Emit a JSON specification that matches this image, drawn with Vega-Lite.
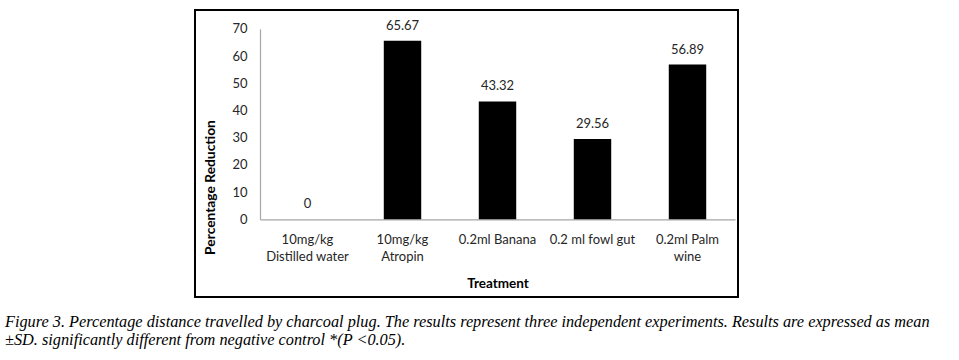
{
  "$schema": "https://vega.github.io/schema/vega-lite/v6.json",
  "width": 543,
  "height": 287,
  "autosize": {"type": "none"},
  "padding": {"left": 195, "top": 10, "right": 221, "bottom": 63},
  "background": "white",
  "config": {
    "view": {"stroke": "#000000", "strokeWidth": 2},
    "font": "Lato"
  },
  "title": {
    "text": [
      "Figure 3. Percentage distance travelled by charcoal plug. The results represent three independent experiments. Results are expressed as mean",
      "±SD. significantly different from negative control *(P <0.05)."
    ],
    "orient": "bottom",
    "anchor": "start",
    "frame": "group",
    "dx": -190,
    "offset": 17,
    "font": "Liberation Serif",
    "fontStyle": "italic",
    "fontWeight": "normal",
    "fontSize": 16.3,
    "lineHeight": 18,
    "color": "#000000"
  },
  "data": {
    "values": [
      {"treatment": "10mg/kg Distilled water", "value": 0},
      {"treatment": "10mg/kg Atropin", "value": 65.67},
      {"treatment": "0.2ml Banana", "value": 43.32},
      {"treatment": "0.2 ml fowl gut", "value": 29.56},
      {"treatment": "0.2ml Palm wine", "value": 56.89}
    ]
  },
  "encoding": {
    "x": {
      "field": "treatment",
      "type": "nominal",
      "sort": null,
      "scale": {"range": [65, 540], "paddingInner": 0.606, "paddingOuter": 0.303},
      "axis": {
        "orient": "bottom",
        "offset": -77.7,
        "title": "Treatment",
        "titleFont": "Lato",
        "titleFontSize": 13.5,
        "titleFontWeight": "bold",
        "titleColor": "#000000",
        "titleY": 64,
        "titleBaseline": "middle",
        "labelAngle": 0,
        "labelFontSize": 13,
        "labelColor": "#262626",
        "labelPadding": 14,
        "labelLineHeight": 17.6,
        "labelBaseline": "top",
        "labelLimit": 200,
        "labelExpr": "indexof(datum.label, '10mg/kg ') == 0 ? ['10mg/kg', substring(datum.label, 8)] : (datum.label == '0.2ml Palm wine' ? ['0.2ml Palm', 'wine'] : datum.label)",
        "ticks": false,
        "tickSize": 0,
        "domainColor": "#a6a6a6",
        "domainWidth": 1.2,
        "grid": false
      }
    },
    "y": {
      "field": "value",
      "type": "quantitative",
      "scale": {"domain": [0, 70], "range": [209.3, 18.9], "nice": false, "zero": true},
      "axis": {
        "orient": "left",
        "offset": -65,
        "values": [0, 10, 20, 30, 40, 50, 60, 70],
        "title": "Percentage Reduction",
        "titleFont": "Lato",
        "titleFontSize": 13.8,
        "titleFontWeight": "bold",
        "titleColor": "#000000",
        "titleAngle": -90,
        "titleX": -50,
        "titleY": 177,
        "titleAlign": "center",
        "titleBaseline": "middle",
        "labelFontSize": 13,
        "labelColor": "#262626",
        "labelPadding": 13,
        "ticks": false,
        "tickSize": 0,
        "domainColor": "#a6a6a6",
        "domainWidth": 1.2,
        "grid": false
      }
    }
  },
  "layer": [
    {"mark": {"type": "bar", "color": "#000000"}},
    {
      "mark": {"type": "text", "baseline": "bottom", "dy": -8, "fontSize": 13, "color": "#262626"},
      "encoding": {"text": {"field": "value", "type": "quantitative", "format": ".4~"}}
    }
  ]
}
